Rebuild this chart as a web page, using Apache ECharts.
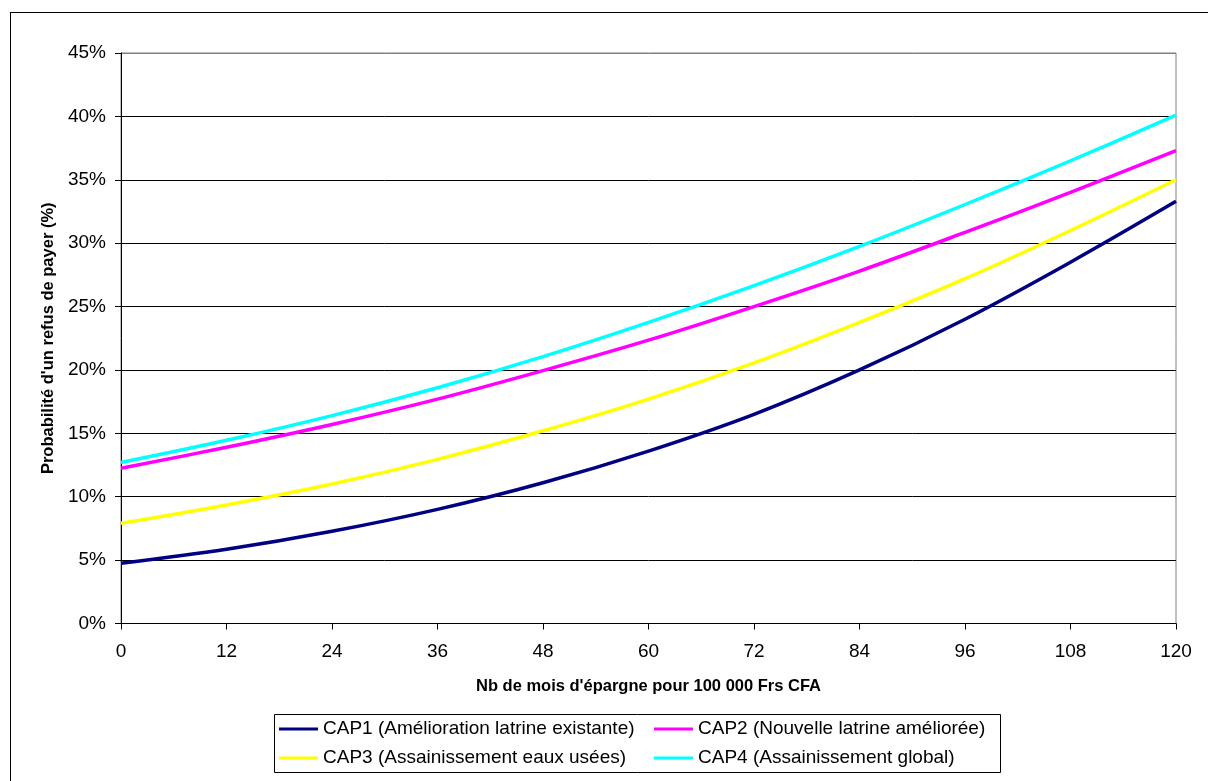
<!DOCTYPE html>
<html>
<head>
<meta charset="utf-8">
<script src="https://cdn.jsdelivr.net/npm/echarts@6/dist/echarts.min.js"></script>
<style>
  html, body { margin: 0; padding: 0; background: #fff; }
  #chart { width: 1208px; height: 781px; }
  #frame {
    position: absolute; left: 10px; top: 12px;
    width: 1300px; height: 900px;
    border: 1px solid #000; pointer-events: none;
  }
</style>
</head>
<body>
<div id="chart"></div>
<div id="frame"></div>
<script>
// Months of savings needed for 100 000 Frs CFA
const months = [0, 12, 24, 36, 48, 60, 72, 84, 96, 108, 120];
// Probability of refusing to pay (%)
const cap1 = [4.75, 5.85, 7.27, 9.0, 11.1, 13.6, 16.5, 20.0, 24.0, 28.5, 33.3];
const cap2 = [12.25, 13.9, 15.7, 17.7, 19.95, 22.35, 25.0, 27.8, 30.85, 34.0, 37.3];
const cap3 = [7.9, 9.35, 11.0, 12.95, 15.2, 17.7, 20.55, 23.75, 27.2, 31.0, 35.0];
const cap4 = [12.7, 14.45, 16.4, 18.6, 21.05, 23.75, 26.65, 29.75, 33.05, 36.5, 40.1];
const yTicks = [0, 5, 10, 15, 20, 25, 30, 35, 40, 45];

const names = [
  'CAP1 (Amélioration latrine existante)',
  'CAP2 (Nouvelle latrine améliorée)',
  'CAP3 (Assainissement eaux usées)',
  'CAP4 (Assainissement global)'
];
const colors = ['#000080', '#FF00FF', '#FFFF00', '#00FFFF'];
const values = [cap1, cap2, cap3, cap4];

const font = 'Liberation Sans, Arial, sans-serif';

const chart = echarts.init(document.getElementById('chart'), null, { renderer: 'canvas' });

const legendCommon = {
  orient: 'vertical',
  icon: 'rect',
  itemWidth: 39,
  itemHeight: 3,
  itemGap: 9,
  padding: 0,
  selectedMode: false,
  textStyle: { fontFamily: font, fontSize: 19, color: '#000', lineHeight: 20 }
};

chart.setOption({
  animation: false,
  backgroundColor: '#fff',
  textStyle: { fontFamily: font },
  grid: {
    left: 121, right: 32, top: 53, bottom: 157.5,
    show: true, borderColor: '#808080', borderWidth: 1
  },
  xAxis: {
    type: 'value',
    min: 0, max: 120, interval: 12,
    name: "Nb de mois d'épargne pour 100 000 Frs CFA",
    nameLocation: 'middle',
    nameGap: 54,
    nameTextStyle: { fontFamily: font, fontSize: 16.5, fontWeight: 'bold', color: '#000' },
    axisLine: { show: true, lineStyle: { color: '#000', width: 1 } },
    axisTick: { show: true, inside: false, length: 6, lineStyle: { color: '#000' } },
    axisLabel: { fontFamily: font, fontSize: 19, color: '#000', margin: 19 },
    splitLine: { show: false }
  },
  yAxis: {
    type: 'value',
    min: yTicks[0], max: yTicks[yTicks.length - 1], interval: 5,
    name: "Probabilité d'un refus de payer (%)",
    nameLocation: 'middle',
    nameGap: 64,
    nameRotate: 90,
    nameTextStyle: { fontFamily: font, fontSize: 16.5, fontWeight: 'bold', color: '#000' },
    axisLine: { show: true, lineStyle: { color: '#000', width: 1 } },
    axisTick: { show: true, inside: false, length: 6, lineStyle: { color: '#000' } },
    axisLabel: { fontFamily: font, fontSize: 19, color: '#000', margin: 15, formatter: '{value}%' },
    splitLine: {
      show: true,
      lineStyle: { color: ['#000', '#000', '#000', '#000', '#000', '#000', '#000', '#000', '#000', '#808080'], width: 1 }
    }
  },
  legend: [
    Object.assign({}, legendCommon, { left: 279, top: 719, data: [names[0], names[2]] }),
    Object.assign({}, legendCommon, { left: 654, top: 719, data: [names[1], names[3]] })
  ],
  graphic: [{
    type: 'rect',
    shape: { x: 274.5, y: 714.5, width: 726, height: 58 },
    style: { fill: 'none', stroke: '#000', lineWidth: 1 },
    silent: true
  }],
  series: values.map((v, i) => ({
    name: names[i],
    type: 'line',
    smooth: 0.35,
    showSymbol: false,
    symbol: 'none',
    color: colors[i],
    lineStyle: { color: colors[i], width: 3.5 },
    data: months.map((m, j) => [m, v[j]])
  }))
});
</script>
</body>
</html>
